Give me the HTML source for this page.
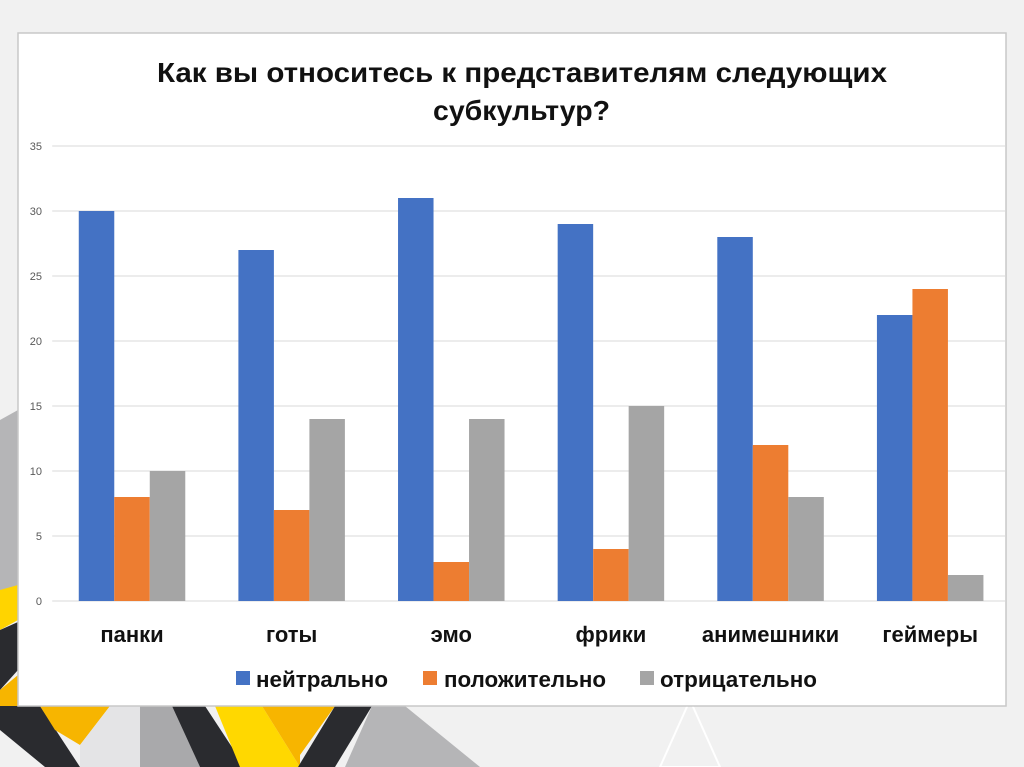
<!DOCTYPE html>
<html><head><meta charset="utf-8">
<style>
body{margin:0;width:1024px;height:767px;background:#f1f1f1;position:relative;overflow:hidden;font-family:"Liberation Sans","DejaVu Sans",sans-serif}
svg{position:absolute;left:0;top:0}
</style></head>
<body>
<svg width="1024" height="767">
 <g>
  <polygon points="0,420 18,410 18,600 0,620" fill="#b5b5b7"/>
  <polygon points="0,590 18,585 18,620 0,630" fill="#ffd400"/>
  <polygon points="0,630 18,622 18,670 0,690" fill="#2a2b2f"/>
  <polygon points="0,690 18,675 18,706 0,720" fill="#f7b500"/>
  <polygon points="0,706 40,706 80,767 45,767 0,730" fill="#2a2b2f"/>
  <polygon points="40,706 110,706 80,745 55,730" fill="#f7b500"/>
  <polygon points="80,745 110,706 150,706 140,767 80,767" fill="#e4e4e6"/>
  <polygon points="140,706 172,706 200,767 140,767" fill="#a9a9ab"/>
  <polygon points="172,706 205,706 245,767 200,767" fill="#2a2b2f"/>
  <polygon points="215,706 262,706 300,767 240,767" fill="#ffd800"/>
  <polygon points="262,706 335,706 300,755 300,767" fill="#f7b500"/>
  <polygon points="335,706 372,706 335,767 298,767" fill="#2a2b2f"/>
  <polygon points="372,706 405,706 480,767 345,767" fill="#b5b5b7"/>
  <polygon points="660,767 690,700 720,767" fill="none" stroke="#fff" stroke-width="2"/>
 </g>
 <rect x="18" y="33" width="988" height="673" fill="#fff" stroke="#c8c8c8" stroke-width="1.5"/>
 <text x="157" y="82" textLength="730" lengthAdjust="spacingAndGlyphs" font-size="28" font-weight="bold" fill="#111">Как вы относитесь к представителям следующих</text>
 <text x="433" y="120" textLength="177" lengthAdjust="spacingAndGlyphs" font-size="28" font-weight="bold" fill="#111">субкультур?</text>
 <g id="grid"></g><g id="bars"></g><g id="labels"></g>
 <g>
  <rect x="236" y="671" width="14" height="14" fill="#4472c4"/>
  <text x="256" y="687" textLength="132" lengthAdjust="spacingAndGlyphs" font-size="22" font-weight="bold" fill="#111">нейтрально</text>
  <rect x="423" y="671" width="14" height="14" fill="#ed7d31"/>
  <text x="444" y="687" textLength="162" lengthAdjust="spacingAndGlyphs" font-size="22" font-weight="bold" fill="#111">положительно</text>
  <rect x="640" y="671" width="14" height="14" fill="#a5a5a5"/>
  <text x="660" y="687" textLength="157" lengthAdjust="spacingAndGlyphs" font-size="22" font-weight="bold" fill="#111">отрицательно</text>
 </g>
</svg>
<script>
const categories=["панки","готы","эмо","фрики","анимешники","геймеры"];
const neutral=[30,27,31,29,28,22];
const positive=[8,7,3,4,12,24];
const negative=[10,14,14,15,8,2];
const ticks=[0,5,10,15,20,25,30,35];
const NS="http://www.w3.org/2000/svg";
const x0=52.2,x1=1010,gridEnd=1005,y0=601,yTop=146,yMax=35;
const band=(x1-x0)/categories.length,bw=35.5;
const y=v=>y0-(v/yMax)*(y0-yTop);
function mk(t,a,p){const e=document.createElementNS(NS,t);for(const k in a)e.setAttribute(k,a[k]);p.appendChild(e);return e;}
const G=document.getElementById('grid'),B=document.getElementById('bars'),L=document.getElementById('labels');
ticks.forEach(t=>{
 const l=mk('line',{x1:x0,x2:gridEnd,y1:y(t),y2:y(t),stroke:'#d9d9d9','stroke-width':1},G);
 
 
 const tx=mk('text',{x:42,y:y(t)+4,'text-anchor':'end','font-size':11,fill:'#595959'},G);
 tx.textContent=t;
 
 
});
const series=[[neutral,'#4472c4','neutral'],[positive,'#ed7d31','positive'],[negative,'#a5a5a5','negative']];
categories.forEach((c,i)=>{
 const cx=x0+band*(i+0.5);
 series.forEach((s,j)=>{
  const v=s[0][i];
  const r=mk('rect',{x:cx-1.5*bw+j*bw,y:y(v),width:bw,height:y0-y(v),fill:s[1]},B);
  
  
 });
 const t=mk('text',{x:cx,y:642,'text-anchor':'middle','font-size':22,'font-weight':'bold',fill:'#111'},L);
 t.textContent=c;
 
 
});
</script>
</body></html>
